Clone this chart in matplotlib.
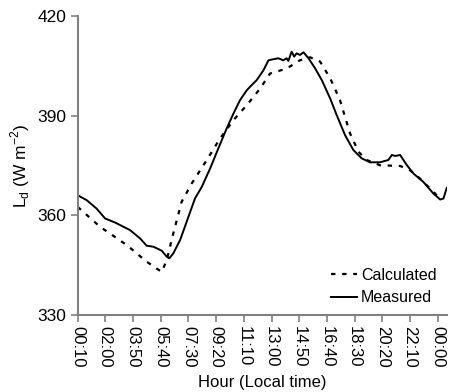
import matplotlib
matplotlib.use("Agg")
import matplotlib.pyplot as plt

# minutes after 00:10
meas_t = [0, 36, 75, 109, 148, 208, 248, 274, 301, 334, 354, 364, 380, 407, 433, 466, 493,
          526, 559, 592, 619, 645, 672, 691, 711, 738, 758, 777, 797, 817, 830, 837, 850,
          860, 870, 883, 897, 917, 943, 970, 1003, 1029, 1062, 1095, 1128, 1161, 1201,
          1234, 1248, 1261, 1281, 1307, 1334, 1373, 1413, 1440, 1453, 1466]
meas_v = [366.1, 364.6, 362.1, 359.1, 357.9, 355.6, 353.1, 350.9, 350.6, 349.4, 347.6, 347.1,
          348.6, 352.6, 358.1, 365.1, 368.6, 374.1, 380.2, 386.2, 390.7, 394.7, 397.7, 399.2,
          400.7, 403.7, 406.7, 407.0, 407.3, 406.7, 407.3, 406.5, 409.3, 407.8, 408.8, 408.3,
          409.1, 407.3, 404.3, 400.7, 395.2, 390.2, 384.2, 379.7, 377.2, 376.0, 376.0, 376.7,
          378.2, 377.9, 378.2, 375.2, 372.6, 370.1, 366.6, 364.8, 365.1, 368.3]

calc_t = [0, 89, 195, 274, 334, 354, 380, 413, 453, 513, 566, 619, 672, 725, 764, 830, 883,
          923, 963, 1003, 1042, 1082, 1115, 1148, 1201, 1281, 1320, 1360, 1413, 1440]
calc_v = [362.6, 356.6, 351.1, 346.1, 343.0, 346.6, 354.6, 364.1, 369.6, 376.7, 383.2, 388.7,
          393.2, 398.2, 402.7, 404.2, 406.7, 407.6, 406.3, 401.3, 394.7, 384.7, 379.2, 376.7,
          375.1, 374.9, 373.6, 371.1, 367.1, 365.1]

tick_labels = ["00:10", "02:00", "03:50", "05:40", "07:30", "09:20", "11:10", "13:00",
               "14:50", "16:40", "18:30", "20:20", "22:10", "00:00"]
y_ticks = [330, 360, 390, 420]

plt.rcParams['font.family'] = ['Liberation Sans', 'DejaVu Sans']

fig = plt.figure(figsize=(4.54, 3.92), dpi=100)
ax = fig.add_axes([0.171, 0.196, 0.813, 0.763])

ax.plot(calc_t, calc_v, color='black', lw=1.6, linestyle=(0, (2, 3)), label='Calculated')
ax.plot(meas_t, meas_v, color='black', lw=1.4, label='Measured')

ax.set_xlim(0, 1466)
ax.set_ylim(330, 420)
ax.set_xticks([i * 110 for i in range(len(tick_labels))])
ax.set_xticklabels(tick_labels, rotation=270, fontsize=12)
ax.set_yticks(y_ticks)
ax.set_yticklabels([str(v) for v in y_ticks], fontsize=12.5)

for s in ['top', 'right']:
    ax.spines[s].set_visible(False)
for s in ['left', 'bottom']:
    ax.spines[s].set_color('#808080')
    ax.spines[s].set_linewidth(1.5)
ax.tick_params(axis='both', direction='out', length=5, width=1.2, color='#808080', pad=3)

ax.set_xlabel('Hour (Local time)', fontsize=12, labelpad=5)
ax.set_ylabel(r'L$_\mathregular{d}$ (W m$^{\mathregular{-2}}$)', fontsize=12.5, labelpad=4)

ax.legend(loc='lower right', frameon=False, fontsize=11.5, handlelength=1.6,
          handletextpad=0.25, borderaxespad=0.0, labelspacing=0.45,
          bbox_to_anchor=(0.99, 0.012))

fig.savefig('out.png', dpi=100)
